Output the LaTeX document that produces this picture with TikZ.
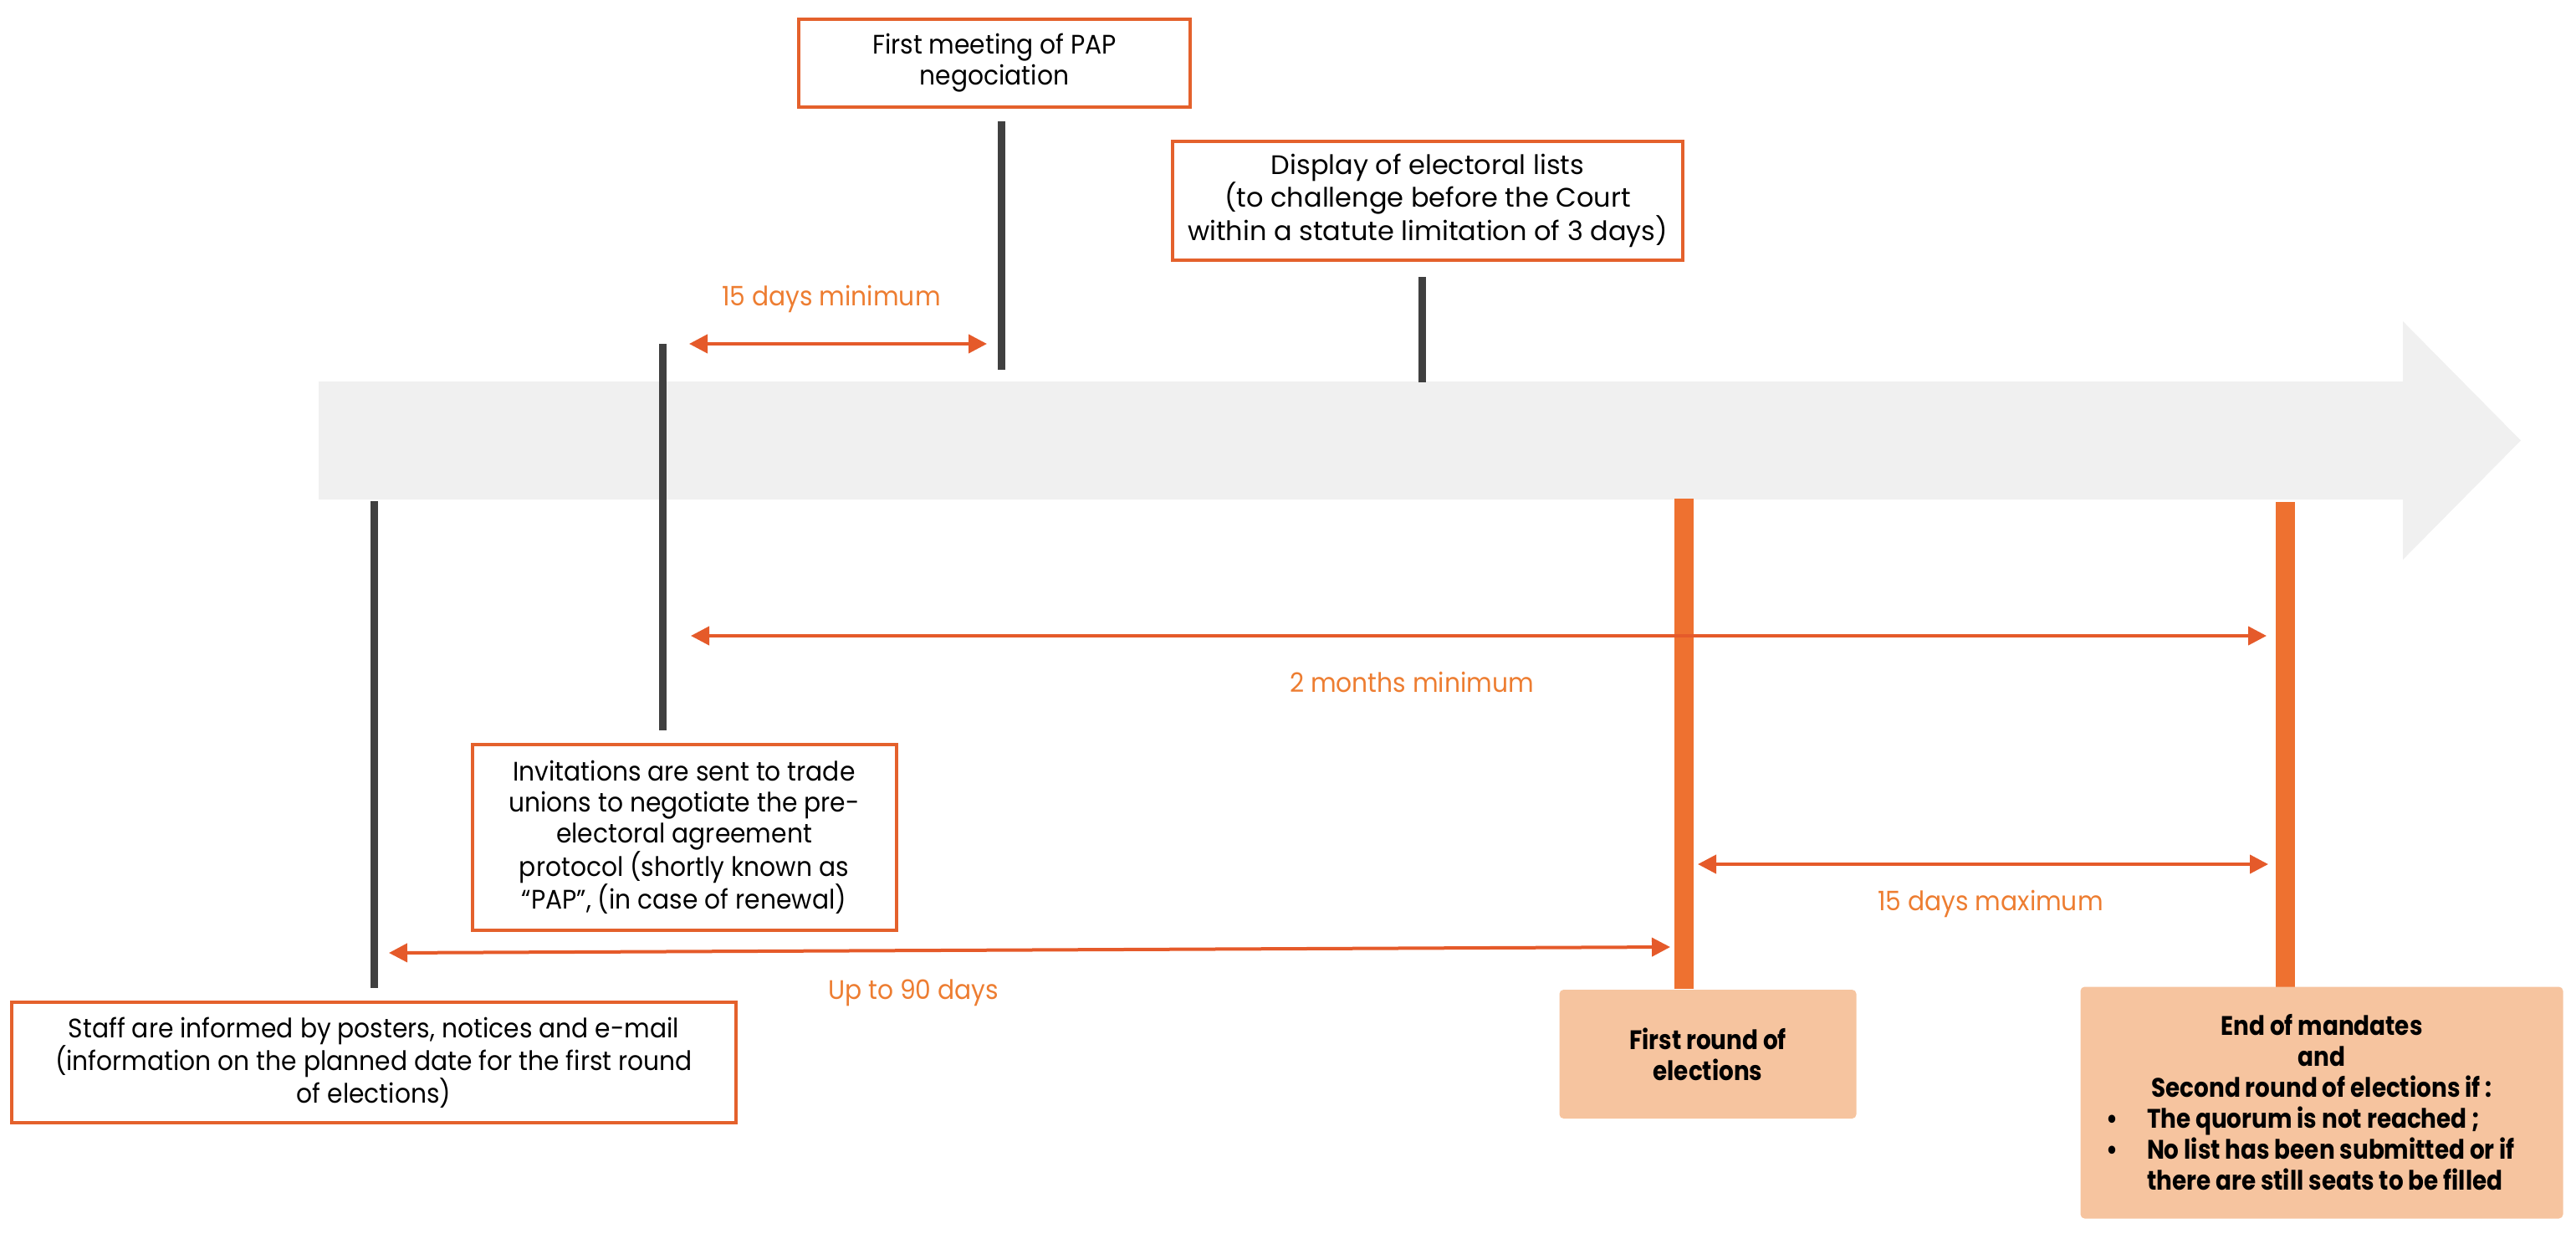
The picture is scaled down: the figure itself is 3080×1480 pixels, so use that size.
\documentclass[tikz,border=0pt]{standalone}
\usepackage{fontspec}
\setmainfont{Poppins}[FakeStretch=0.93, BoldFeatures={FakeStretch=0.87}]
\newfontfamily\widefont{Poppins}[FakeStretch=1.0]
\usetikzlibrary{arrows.meta}
\definecolor{boxline}{HTML}{E4612C}
\definecolor{arrowc}{HTML}{E55A2A}
\definecolor{labelc}{HTML}{ED7D31}
\definecolor{barorange}{HTML}{EE7130}
\definecolor{bardark}{HTML}{404040}
\definecolor{bandgray}{HTML}{F0F0F0}
\definecolor{boxfill}{HTML}{F6C49F}
\begin{document}
\begin{tikzpicture}[x=1pt,y=-1pt,
  txt/.style={font=\fontsize{32}{37}\selectfont, align=center, inner sep=0pt},
  framebox/.style={txt, draw=boxline, line width=4pt, fill=white},
  keybox/.style={txt, fill=boxfill, rounded corners=5pt, font=\fontsize{32}{37}\selectfont\bfseries},
  lbl/.style={txt, text=labelc},
  darkbar/.style={draw=bardark, line width=9pt},
  orangebar/.style={draw=barorange, line width=23pt},
  dimarrow/.style={draw=arrowc, line width=4pt, {Triangle[length=22pt,width=22pt]}-{Triangle[length=22pt,width=22pt]}}
]
\useasboundingbox (0,0) rectangle (3080,1480);

% timeline band
\fill[bandgray] (381,456) -- (2873,456) -- (2873,384) -- (3014,526.5) -- (2873,669) -- (2873,597) -- (381,597) -- cycle;

% bar end points
\coordinate (meetT) at (1197,145);
\coordinate (meetB) at (1197,442);
\coordinate (dispT) at (1700,331);
\coordinate (dispB) at (1700,457);
\coordinate (invT) at (792,411);
\coordinate (invB) at (792,873);
\coordinate (staffT) at (447,599);
\coordinate (staffB) at (447,1181);
\coordinate (firstT) at (2013,596);
\coordinate (firstB) at (2013,1182);
\coordinate (secT) at (2732,600);
\coordinate (secB) at (2732,1182);

\draw[darkbar] (meetT) -- (meetB);
\draw[darkbar] (dispT) -- (dispB);
\draw[darkbar] (invT) -- (invB);
\draw[darkbar] (staffT) -- (staffB);
\draw[orangebar] (firstT) -- (firstB);
\draw[orangebar] (secT) -- (secB);

% dimension arrows
\coordinate (d15L) at (824,411);
\coordinate (d15R) at (1180,411);
\coordinate (m2L) at (826,760);
\coordinate (m2R) at (2710,760);
\coordinate (x15L) at (2030,1033);
\coordinate (x15R) at (2712,1033);
\coordinate (u90L) at (465,1139);
\coordinate (u90R) at (1997,1132);
\draw[dimarrow] (d15L) -- (d15R);
\draw[dimarrow] (m2L) -- (m2R);
\draw[dimarrow] (x15L) -- (x15R);
\draw[dimarrow] (u90L) -- (u90R);

% labels
\node[lbl] (l15min) at (994,357) {15 days minimum};
\node[lbl] (l2m) at (1688,815) {2 months minimum};
\node[lbl] (l15max) at (2380,1080) {15 days maximum};
\node[lbl] (l90) at (1092,1187) {Up to 90 days};

% boxes
\node[framebox, minimum width=468pt, minimum height=105pt] (meet) at (1189,75.5)
  {First meeting of PAP\\negociation};
\node[framebox, minimum width=610pt, minimum height=142pt, font=\fontsize{32}{37}\selectfont\widefont] (disp) at (1707,240)
  {Display of electoral lists\\(to challenge before the Court\\within a statute limitation of 3 days)};
\node[framebox, minimum width=507pt, minimum height=222pt] (inv) at (818,1001)
  {Invitations are sent to trade\\unions to negotiate the pre-\\electoral agreement\\protocol (shortly known as\\“PAP”, (in case of renewal)};
\node[framebox, minimum width=866pt, minimum height=144pt] (staff) at (447,1270)
  {Staff are informed by posters, notices and e-mail\\(information on the planned date for the first round\\of elections)};
\node[keybox, minimum width=355pt, minimum height=154pt] (first) at (2042,1260)
  {First round of\\elections};
\node[keybox, minimum width=577pt, minimum height=277pt] (second) at (2776,1318)
  {End of mandates\\and\\Second round of elections if :\\
   \makebox[516pt][l]{\makebox[49pt][l]{\textbullet}The quorum is not reached ;}\\
   \makebox[516pt][l]{\makebox[49pt][l]{\textbullet}No list has been submitted or if}\\
   \makebox[516pt][l]{\hspace{49pt}there are still seats to be filled}};
\end{tikzpicture}
\end{document}
